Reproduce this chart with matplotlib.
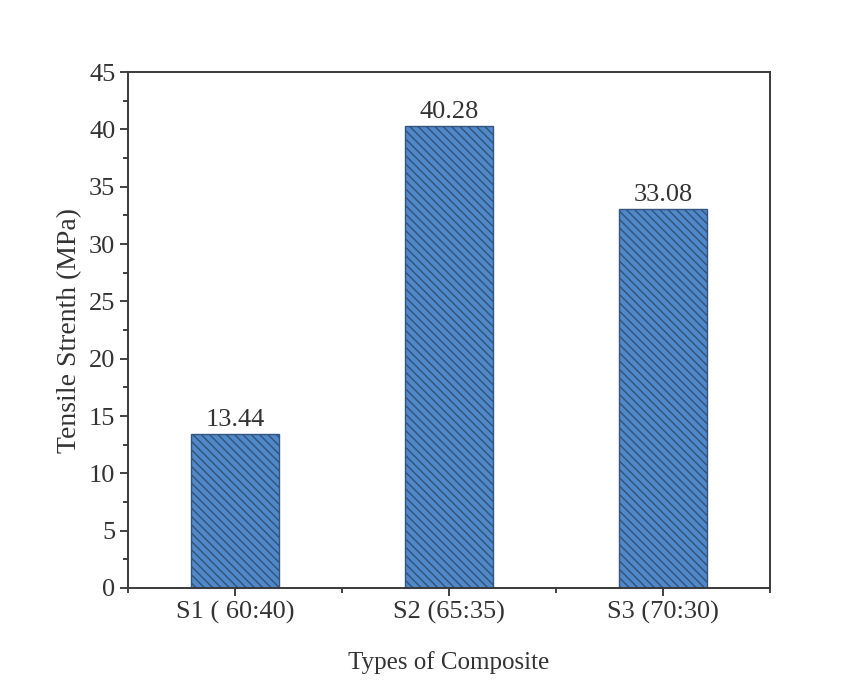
import matplotlib
matplotlib.use("Agg")
import matplotlib.pyplot as plt
from matplotlib.ticker import MultipleLocator, FixedLocator

categories = ["S1 ( 60:40)", "S2 (65:35)", "S3 (70:30)"]
strength = [13.44, 40.28, 33.08]
value_labels = ["13.44", "40.28", "33.08"]

plt.rcParams["font.family"] = ["Liberation Serif", "DejaVu Serif"]
plt.rcParams["hatch.color"] = "#2a5288"
plt.rcParams["hatch.linewidth"] = 1.1

text_color = "#333333"

fig = plt.figure(figsize=(8.41, 7.0), dpi=100)
ax = fig.add_axes([0.152, 0.160, 0.764, 0.737])

x = [1, 2, 3]
bars = ax.bar(x, strength, width=0.41, color="#5089c9", edgecolor="#34557f",
              linewidth=1.0, hatch="\\\\\\\\")
for xi, v, lab in zip(x, strength, value_labels):
    ax.text(xi, v + 0.25, lab, ha="center", va="bottom", fontsize=19, color=text_color)

ax.set_xlim(0.5, 3.5)
ax.set_ylim(0, 45)
ax.set_xticks(x)
ax.set_xticklabels(categories)
ax.xaxis.set_minor_locator(FixedLocator([0.5, 1.5, 2.5, 3.5]))
ax.yaxis.set_major_locator(MultipleLocator(5))
ax.yaxis.set_minor_locator(MultipleLocator(2.5))

ax.tick_params(axis="both", which="major", direction="out", length=6, width=1.3,
               labelsize=19, colors="#333333", labelcolor=text_color, pad=3)
ax.tick_params(axis="both", which="minor", direction="out", length=3.5, width=1.3,
               colors="#333333")
ax.tick_params(top=False, right=False)
for s in ax.spines.values():
    s.set_linewidth(1.4)
    s.set_color("#3a3a3a")

ax.set_ylabel("Tensile Strenth (MPa)", fontsize=20, color=text_color, labelpad=5)
ax.set_xlabel("Types of Composite", fontsize=18, color=text_color, labelpad=20)

fig.savefig("out.png", dpi=100, facecolor="white")
